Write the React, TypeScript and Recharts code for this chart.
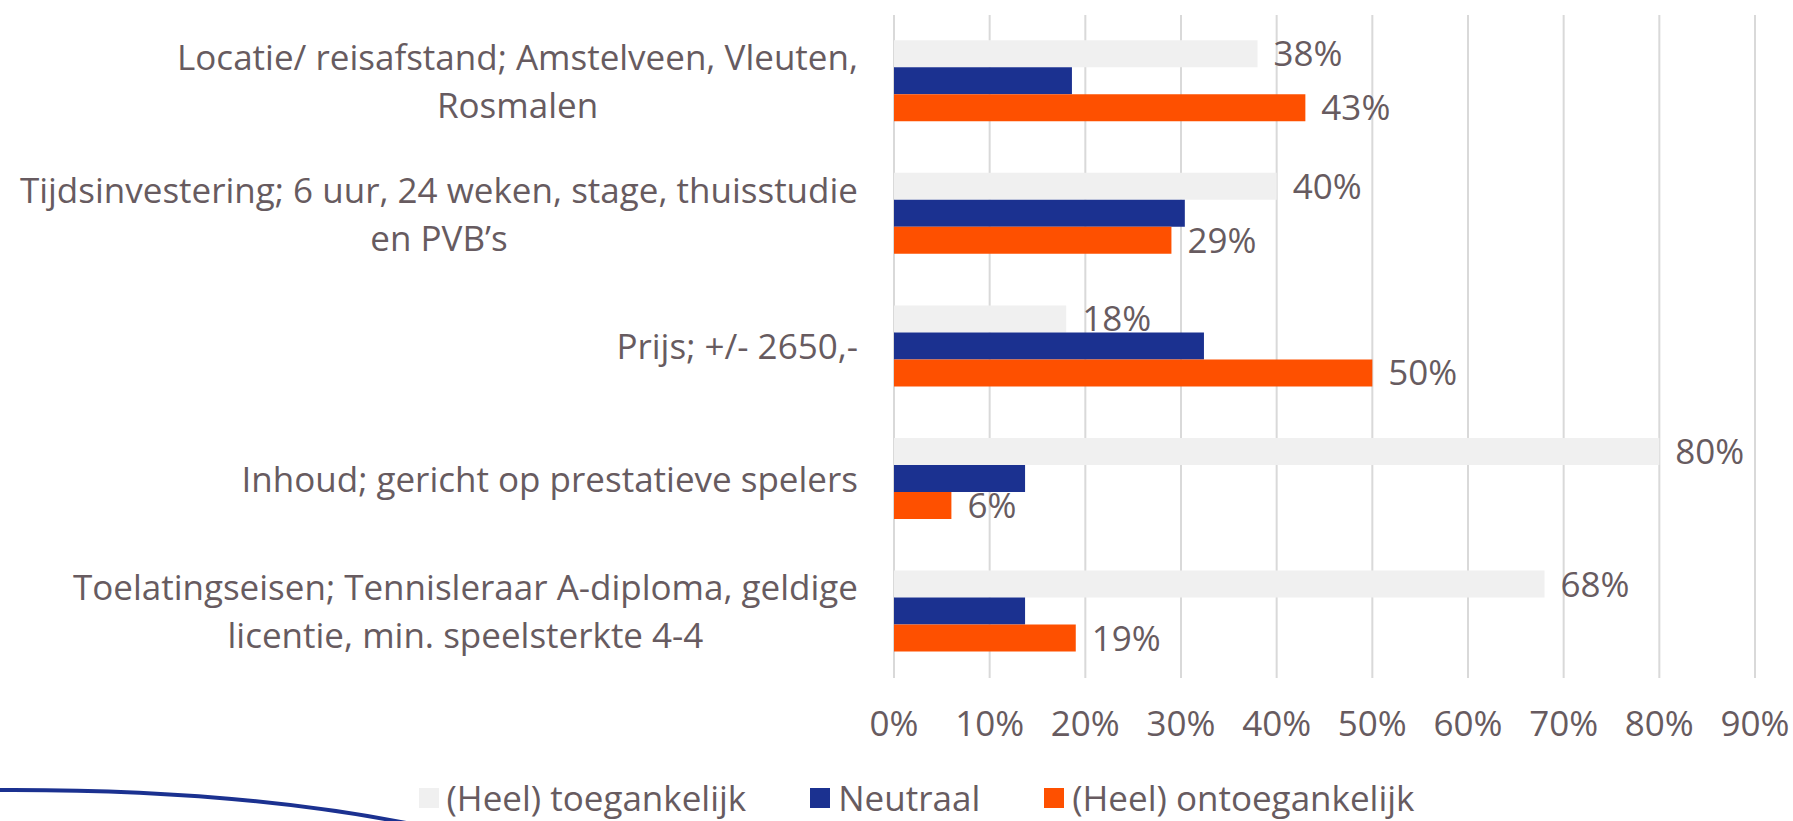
import React from "react";
import { BarChart, Bar, XAxis, YAxis, CartesianGrid, Legend, LabelList } from "recharts";

const categories = [
    "Locatie/ reisafstand; Amstelveen, Vleuten,\nRosmalen",
    "Tijdsinvestering; 6 uur, 24 weken, stage, thuisstudie\nen PVB’s",
    "Prijs; +/- 2650,-",
    "Inhoud; gericht op prestatieve spelers",
    "Toelatingseisen; Tennisleraar A-diploma, geldige\nlicentie, min. speelsterkte 4-4",
];
const toegankelijk = [38, 40, 18, 80, 68];
const neutraal = [18.6, 30.4, 32.4, 13.7, 13.7];
const ontoegankelijk = [43, 29, 50, 6, 19];
const xTicks = [0, 10, 20, 30, 40, 50, 60, 70, 80, 90];

const seriesNames = ["(Heel) toegankelijk", "Neutraal", "(Heel) ontoegankelijk"];
const colors = ["#F0F0F0", "#1B3190", "#FE5000"];

const FONT = "'Open Sans', sans-serif";
const FONT_SIZE = 35;
const TEXT = "#675B60";

const data = categories.map((c, i) => ({
    name: c,
    toeg: toegankelijk[i],
    neutr: neutraal[i],
    ontoeg: ontoegankelijk[i],
}));

let ctx: CanvasRenderingContext2D | null = null;
function measure(s: string) {
    if (!ctx) ctx = document.createElement("canvas").getContext("2d");
    if (!ctx) return s.length * FONT_SIZE * 0.5;
    ctx.font = `${FONT_SIZE}px 'Open Sans'`;
    return ctx.measureText(s).width;
}

function CategoryTick(props: any) {
    const { x, y, payload } = props;
    const lines: string[] = String(payload.value).split("\n");
    const maxW = Math.max(...lines.map(measure));
    const cx = x - maxW / 2;
    const lh = 48;
    const y0 = y - ((lines.length - 1) * lh) / 2;
    return (
        <text fill={TEXT} fontSize={FONT_SIZE} fontFamily={FONT} textAnchor="middle">
            {lines.map((l, i) => (
                <tspan key={i} x={cx} y={y0 + i * lh} dy="0.36em">
                    {l}
                </tspan>
            ))}
        </text>
    );
}

function LegendContent() {
    return (
        <div style={{ display: "flex", justifyContent: "center", alignItems: "center", paddingTop: 30, paddingLeft: 78, lineHeight: "40px", fontFamily: FONT, fontSize: FONT_SIZE, color: TEXT }}>
            {seriesNames.map((n, i) => (
                <div key={n} style={{ display: "flex", alignItems: "center", marginRight: i < seriesNames.length - 1 ? 64 : 0 }}>
                    <span style={{ display: "inline-block", width: 20, height: 20, background: colors[i], marginRight: 8 }} />
                    <span>{n}</span>
                </div>
            ))}
        </div>
    );
}

const pct = (v: any) => `${Math.round(Number(v))}%`;

export default function App() {
    return (
        <div style={{ position: "absolute", left: 0, top: 0, width: 1793, height: 821, background: "#fff", overflow: "hidden" }}>
            <BarChart
                width={1793}
                height={821}
                data={data}
                layout="vertical"
                margin={{ top: 15, right: 38, left: 0, bottom: 0 }}
                barCategoryGap="19%"
                barGap={0}
            >
                <CartesianGrid horizontal={false} stroke="#D9D9D9" strokeWidth={2} />
                <XAxis
                    type="number"
                    domain={[0, 90]}
                    ticks={xTicks}
                    tickFormatter={(v) => `${v}%`}
                    axisLine={false}
                    tickLine={false}
                    tickSize={0}
                    tickMargin={33}
                    height={70}
                    interval={0}
                    tick={{ fill: TEXT, fontSize: FONT_SIZE, fontFamily: FONT }}
                />
                <YAxis
                    type="category"
                    dataKey="name"
                    width={894}
                    axisLine={false}
                    tickLine={false}
                    tickSize={0}
                    tickMargin={36}
                    interval={0}
                    tick={<CategoryTick />}
                />
                <Legend verticalAlign="bottom" wrapperStyle={{ height: 73 }} content={<LegendContent />} />
                <Bar dataKey="toeg" name={seriesNames[0]} fill={colors[0]} isAnimationActive={false}>
                    <LabelList dataKey="toeg" position="right" offset={16} formatter={pct} fill={TEXT} fontSize={FONT_SIZE} fontFamily={FONT} />
                </Bar>
                <Bar dataKey="neutr" name={seriesNames[1]} fill={colors[1]} isAnimationActive={false} />
                <Bar dataKey="ontoeg" name={seriesNames[2]} fill={colors[2]} isAnimationActive={false}>
                    <LabelList dataKey="ontoeg" position="right" offset={16} formatter={pct} fill={TEXT} fontSize={FONT_SIZE} fontFamily={FONT} />
                </Bar>
            </BarChart>
            <svg width={1793} height={821} style={{ position: "absolute", left: 0, top: 0, pointerEvents: "none" }}>
                <path d="M -10 790 Q 250 788 440 830" stroke="#1B3190" strokeWidth={4} fill="none" />
            </svg>
        </div>
    );
}
